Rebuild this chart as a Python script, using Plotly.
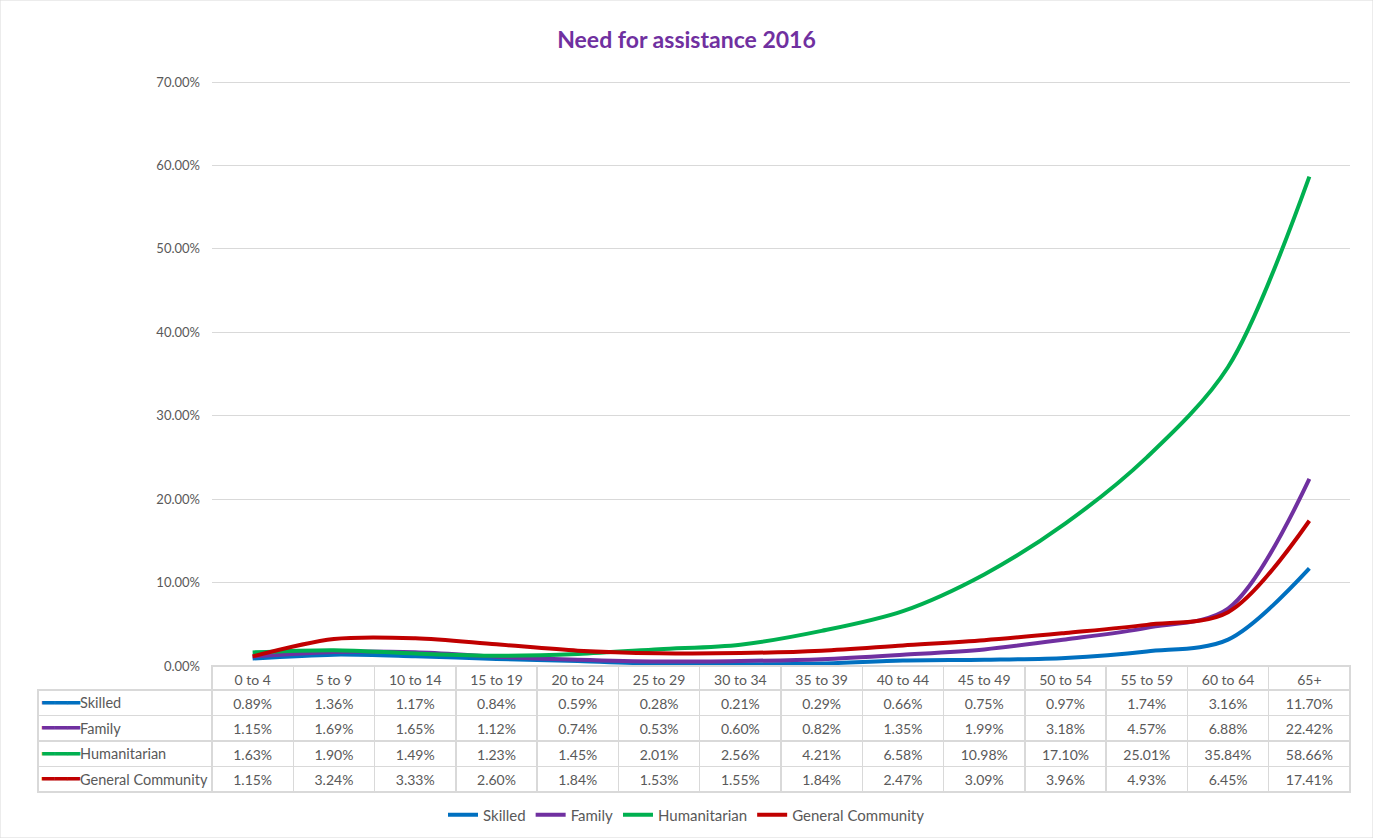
import plotly.graph_objects as go

categories = ["0 to 4", "5 to 9", "10 to 14", "15 to 19", "20 to 24", "25 to 29", "30 to 34",
              "35 to 39", "40 to 44", "45 to 49", "50 to 54", "55 to 59", "60 to 64", "65+"]
skilled = [0.89, 1.36, 1.17, 0.84, 0.59, 0.28, 0.21, 0.29, 0.66, 0.75, 0.97, 1.74, 3.16, 11.70]
family = [1.15, 1.69, 1.65, 1.12, 0.74, 0.53, 0.60, 0.82, 1.35, 1.99, 3.18, 4.57, 6.88, 22.42]
humanitarian = [1.63, 1.90, 1.49, 1.23, 1.45, 2.01, 2.56, 4.21, 6.58, 10.98, 17.10, 25.01, 35.84, 58.66]
general = [1.15, 3.24, 3.33, 2.60, 1.84, 1.53, 1.55, 1.84, 2.47, 3.09, 3.96, 4.93, 6.45, 17.41]

series_names = ["Skilled", "Family", "Humanitarian", "General Community"]
series_values = [skilled, family, humanitarian, general]
colors = ["#0070C0", "#7030A0", "#00B050", "#C00000"]

W, H = 1373, 838
FONT = "Lato"
TXT = "#595959"

# layout geometry (pixels)
PLOT_L, PLOT_R, PLOT_T, PLOT_B = 212, 1350, 82, 666
TABLE_L = 38
HEADER_H, ROW_H = 24, 25.5
KEY_W = 39

fig = go.Figure()

for name, vals, col in zip(series_names, series_values, colors):
    fig.add_trace(go.Scatter(
        x=categories, y=[v / 100 for v in vals], name=name, mode="lines",
        line=dict(color=col, width=4, shape="spline", smoothing=0.9),
        hoverinfo="x+y+name",
    ))

# data table beneath the chart
n = len(categories)
columns = [[""] * len(series_names)] + [[f"{series_values[s][i]:.2f}%" for s in range(4)] for i in range(n)]
header_vals = [""] + categories
table_bottom = PLOT_B + HEADER_H + ROW_H * len(series_names) + 10
fig.add_trace(go.Table(
    domain=dict(x=[TABLE_L / W, PLOT_R / W], y=[1 - table_bottom / H, 1 - PLOT_B / H]),
    columnwidth=[PLOT_L - TABLE_L] + [(PLOT_R - PLOT_L) / n] * n,
    header=dict(
        values=header_vals, height=HEADER_H,
        fill=dict(color=["rgba(0,0,0,0)"] + ["white"] * n),
        line=dict(color=["rgba(0,0,0,0)"] + ["#D9D9D9"] * n, width=1.5),
        font=dict(family=FONT, size=14, color=TXT), align="center",
    ),
    cells=dict(
        values=columns, height=ROW_H,
        fill=dict(color="white"),
        line=dict(color="#D9D9D9", width=1.5),
        font=dict(family=FONT, size=14, color=TXT),
        align=["left"] + ["center"] * n,
    ),
))

# row labels with legend keys in the first table column
annotations = []
for i, (name, col) in enumerate(zip(series_names, colors)):
    yc = 1 - (PLOT_B + HEADER_H + ROW_H * (i + 0.5)) / H
    annotations.append(dict(
        xref="paper", yref="paper", x=(TABLE_L + 1) / W, y=yc,
        xanchor="left", yanchor="middle", showarrow=False,
        text="━━━", font=dict(family="DejaVu Sans", size=21, color=col),
    ))
    annotations.append(dict(
        xref="paper", yref="paper", x=(TABLE_L + 1 + KEY_W) / W, y=yc,
        xanchor="left", yanchor="middle", showarrow=False,
        text=name, font=dict(family=FONT, size=14.5, color=TXT),
    ))

fig.update_layout(
    width=W, height=H,
    margin=dict(l=0, r=0, t=0, b=0, autoexpand=False),
    paper_bgcolor="white", plot_bgcolor="white",
    title=dict(text="<b>Need for assistance 2016</b>", x=0.5, xanchor="center",
               y=1 - 40 / H, yanchor="middle",
               font=dict(family=FONT, size=23, color="#7030A0")),
    xaxis=dict(domain=[PLOT_L / W, PLOT_R / W], type="category", range=[-0.5, n - 0.5],
               showticklabels=False, showgrid=False, zeroline=False, showline=False, ticks=""),
    yaxis=dict(domain=[1 - PLOT_B / H, 1 - (PLOT_T - 2) / H], range=[0, 0.7024], dtick=0.10,
               tickformat=".2%", gridcolor="#D9D9D9", gridwidth=1, zeroline=False,
               showline=False, ticks="", ticklabelstandoff=11,
               tickfont=dict(family=FONT, size=13, color=TXT)),
    legend=dict(orientation="h", x=0.5, xanchor="center", y=1 - 815 / H, yanchor="middle",
                font=dict(family=FONT, size=15, color=TXT),
                bgcolor="rgba(0,0,0,0)"),
    showlegend=True,
    annotations=annotations,
    shapes=[dict(type="rect", xref="paper", yref="paper", x0=0, x1=1, y0=0, y1=1,
                 line=dict(color="#D9D9D9", width=1), fillcolor="rgba(0,0,0,0)", layer="below")],
)

fig.write_html("out.html", config={"displayModeBar": False},
               post_script="document.body.style.margin='0px';")
